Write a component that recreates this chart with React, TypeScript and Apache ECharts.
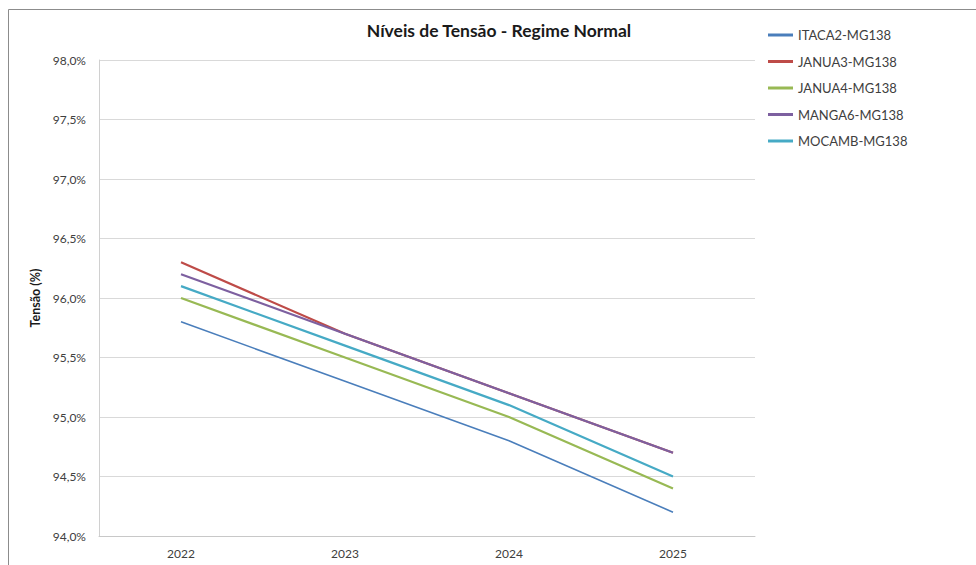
import React, { useEffect, useRef } from "react";
import * as echarts from "echarts";

// Anos do estudo e tensões por barramento (% da nominal)
const years = ["2022", "2023", "2024", "2025"];
const seriesNames = ["ITACA2-MG138", "JANUA3-MG138", "JANUA4-MG138", "MANGA6-MG138", "MOCAMB-MG138"];
const itaca2 = [95.8, 95.3, 94.8, 94.2];
const janua3 = [96.3, 95.7, 95.2, 94.7];
const janua4 = [96.0, 95.5, 95.0, 94.4];
const manga6 = [96.2, 95.7, 95.2, 94.7];
const mocamb = [96.1, 95.6, 95.1, 94.5];
const seriesColors = ["#4A7EBB", "#BE4B48", "#98B954", "#7D60A0", "#46AAC5"];
const seriesWidths = [1.6, 2.2, 2.2, 2.2, 2.2];

const FONT = "Lato, 'Open Sans', sans-serif";

export default function App() {
  const ref = useRef<HTMLDivElement>(null);

  useEffect(() => {
    if (!ref.current) return;
    const chart = echarts.init(ref.current, undefined, { renderer: "svg" });
    const values = [itaca2, janua3, janua4, manga6, mocamb];

    chart.setOption({
      animation: false,
      backgroundColor: "#ffffff",
      textStyle: { fontFamily: FONT },
      title: {
        text: "Níveis de Tensão - Regime Normal",
        left: 499,
        top: 21,
        padding: 0,
        textAlign: "center",
        textStyle: { fontFamily: FONT, fontSize: 17.5, fontWeight: "bold", color: "#1a1a1a" },
      },
      legend: {
        orient: "vertical",
        left: 768,
        top: 27,
        padding: 0,
        itemWidth: 25,
        itemHeight: 3,
        itemGap: 10.5,
        icon: "rect",
        data: seriesNames,
        textStyle: { fontFamily: FONT, fontSize: 13, color: "#404040", lineHeight: 16 },
      },
      grid: { left: 99, right: 221, top: 60, bottom: 29, containLabel: false },
      xAxis: {
        type: "category",
        data: years,
        boundaryGap: true,
        axisLine: { show: true, lineStyle: { color: "#c8c8c8", width: 1 } },
        axisTick: { show: false },
        axisLabel: { fontFamily: FONT, fontSize: 12, color: "#404040", margin: 11 },
        splitLine: { show: false },
      },
      yAxis: {
        type: "value",
        min: 94,
        max: 98,
        interval: 0.5,
        name: "Tensão (%)",
        nameLocation: "middle",
        nameGap: 50,
        nameRotate: 90,
        nameTextStyle: { fontFamily: FONT, fontSize: 12.5, fontWeight: "bold", color: "#1a1a1a" },
        axisLine: { show: true, lineStyle: { color: "#d0d0d0", width: 1 } },
        axisTick: { show: false },
        axisLabel: {
          fontFamily: FONT,
          fontSize: 12,
          color: "#404040",
          margin: 13,
          formatter: (v: number) => v.toFixed(1).replace(".", ",") + "%",
        },
        splitLine: { show: true, lineStyle: { color: "#d9d9d9", width: 1 } },
      },
      graphic: [
        {
          type: "rect",
          shape: { x: 8.5, y: 9.5, width: 1000, height: 600 },
          style: { fill: "none", stroke: "#8c8c8c", lineWidth: 1 },
          silent: true,
          z: -10,
        },
      ],
      series: seriesNames.map((name, i) => ({
        name,
        type: "line",
        data: values[i],
        symbol: "none",
        color: seriesColors[i],
        lineStyle: { color: seriesColors[i], width: seriesWidths[i] },
      })),
    });

    return () => chart.dispose();
  }, []);

  return (
    <div
      ref={ref}
      style={{ position: "fixed", left: 0, top: 0, width: 976, height: 565 }}
    />
  );
}
